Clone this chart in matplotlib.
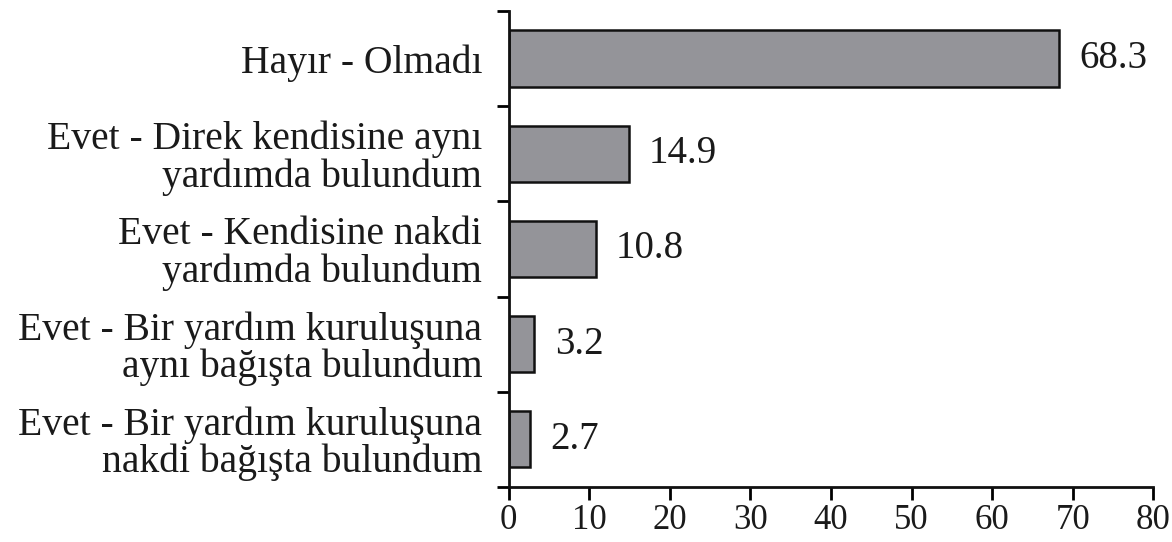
import matplotlib as mpl
mpl.use("agg")
import matplotlib.pyplot as plt
import numpy as np

categories = [
    u'Hayır - Olmadı',
    u'Evet - Direk kendisine aynı\nyardımda bulundum',
    u'Evet - Kendisine nakdi\nyardımda bulundum',
    u'Evet - Bir yardım kuruluşuna\naynı bağışta bulundum',
    u'Evet - Bir yardım kuruluşuna\nnakdi bağışta bulundum',
]
values = [68.3, 14.9, 10.8, 3.2, 2.7]
xticks = [0, 10, 20, 30, 40, 50, 60, 70, 80]

plt.rcParams['font.family'] = ['Liberation Serif', 'DejaVu Serif']

fig = plt.figure(figsize=(11.72, 5.42), dpi=100)
ax = fig.add_axes([0.434, 0.1015, 0.55, 0.8785])

pos = np.arange(len(categories))
ax.barh(pos, values, height=0.59, color='#949499', edgecolor='#111111', linewidth=1.8)
for p, v in zip(pos, values):
    ax.text(v + 2.5, p, '{:.1f}'.format(v), va='center', ha='left', fontsize=28, color='#1a1a1a')

ax.set_ylim(len(categories) - 0.5, -0.5)
ax.set_xlim(0, 80)
ax.set_xticks(xticks)
ax.set_xticklabels([str(t) for t in xticks], fontsize=25, color='#1a1a1a')

# labels centered on bars, tick marks at category boundaries
ax.set_yticks(pos)
ax.set_yticklabels(categories, fontsize=28.5, color='#1a1a1a', linespacing=1.0)
ax.tick_params(axis='y', which='major', length=0, pad=19)
ax.set_yticks(np.arange(len(categories) + 1) - 0.5, minor=True)
ax.tick_params(axis='y', which='minor', length=9, width=2, direction='out')
ax.tick_params(axis='x', length=9, width=2, direction='out', pad=3)

for s in ['top', 'right']:
    ax.spines[s].set_visible(False)
for s in ['left', 'bottom']:
    ax.spines[s].set_linewidth(2)
    ax.spines[s].set_color('#111111')

plt.savefig('out.png', dpi=100)
